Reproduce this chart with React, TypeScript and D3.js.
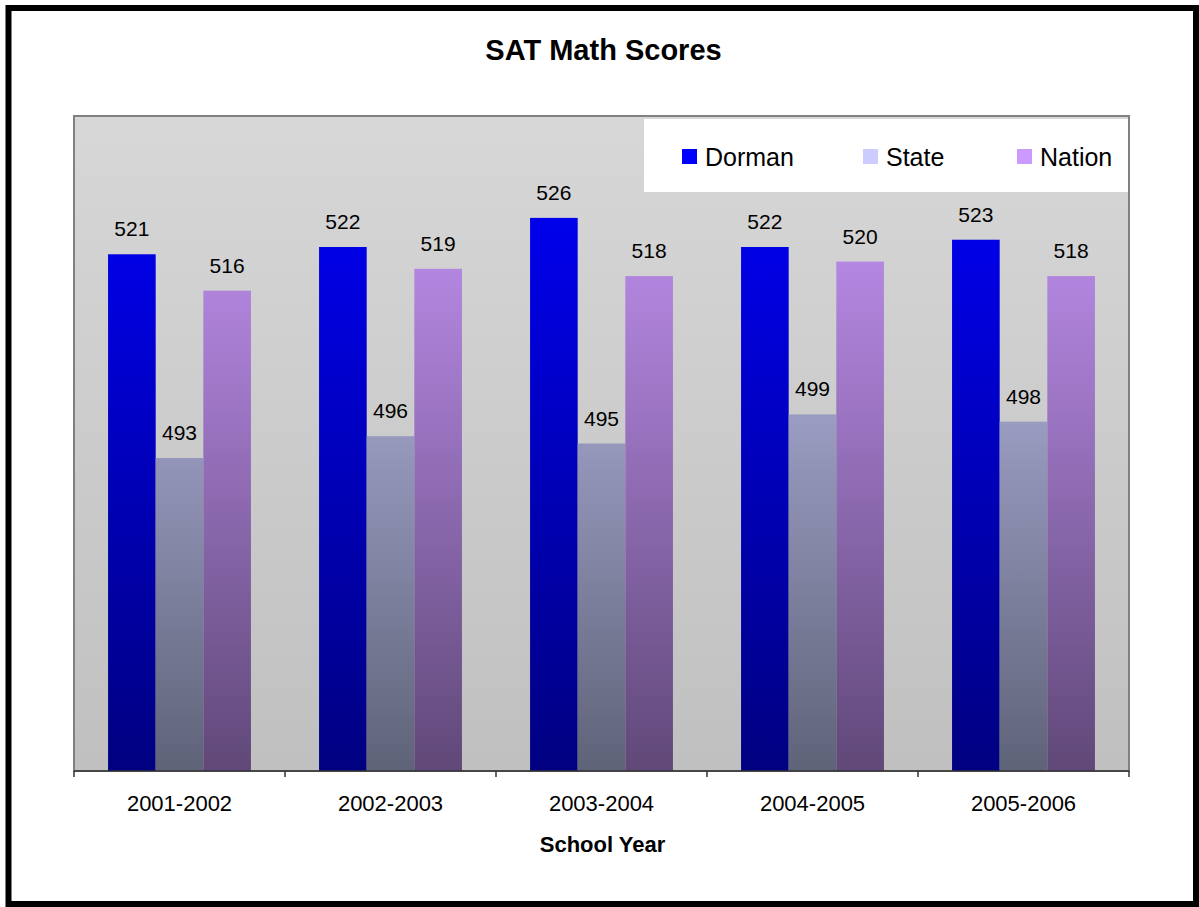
import React from "react";
import * as d3 from "d3";

const years = ["2001-2002", "2002-2003", "2003-2004", "2004-2005", "2005-2006"];
const dorman = [521, 522, 526, 522, 523];
const state = [493, 496, 495, 499, 498];
const nation = [516, 519, 518, 520, 518];
const seriesNames = ["Dorman", "State", "Nation"];
const yDomain = [450, 540];

const W = 1199;
const H = 907;
const plot = { left: 74, top: 116, right: 1129, bottom: 771 };
const font = "'Liberation Sans', Arial, sans-serif";

// top/bottom colours of each series gradient (gradient spans the whole plot area)
const grads = [
  { id: "gDorman", top: "#0000ff", bottom: "#000080", legend: "#0000ff" },
  { id: "gState", top: "#ccccff", bottom: "#5f6378", legend: "#ccccff" },
  { id: "gNation", top: "#cc99ff", bottom: "#604878", legend: "#cc99ff" },
];

const App = () => {
  const values = [dorman, state, nation];

  const x = d3.scaleBand().domain(years).range([plot.left, plot.right]).padding(0);
  const bw = x.bandwidth();
  const gapRatio = 1.43;
  const barW = bw / (3 + gapRatio);
  const x1 = d3
    .scaleBand()
    .domain(seriesNames)
    .range([(gapRatio * barW) / 2, bw - (gapRatio * barW) / 2])
    .padding(0);

  const y = d3.scaleLinear().domain(yDomain).range([plot.bottom, plot.top]);

  const tickXs = years.map((d) => x(d)).concat([plot.right]);

  const legendItems = [
    { name: "Dorman", sx: 682 },
    { name: "State", sx: 863 },
    { name: "Nation", sx: 1017 },
  ];

  return (
    <svg
      width={W}
      height={H}
      style={{ position: "absolute", left: 0, top: 0, background: "#fff" }}
      fontFamily={font}
    >
      <defs>
        <linearGradient id="plotBg" x1="0" y1="0" x2="0" y2="1">
          <stop offset="0" stopColor="#d7d7d7" />
          <stop offset="1" stopColor="#c0c0c0" />
        </linearGradient>
        {grads.map((g) => (
          <linearGradient
            key={g.id}
            id={g.id}
            gradientUnits="userSpaceOnUse"
            x1="0"
            y1={plot.top}
            x2="0"
            y2={plot.bottom}
          >
            <stop offset="0" stopColor={g.top} />
            <stop offset="1" stopColor={g.bottom} />
          </linearGradient>
        ))}
      </defs>

      {/* outer frame */}
      <rect x={8.5} y={8} width={1187.5} height={896} fill="#fff" stroke="#000" strokeWidth={6} />

      <text x={603.5} y={60} textAnchor="middle" fontSize={29} fontWeight="bold">
        SAT Math Scores
      </text>

      {/* plot area */}
      <rect
        x={plot.left}
        y={plot.top}
        width={plot.right - plot.left}
        height={plot.bottom - plot.top}
        fill="url(#plotBg)"
        stroke="#808080"
        strokeWidth={2}
      />

      {/* bars */}
      {years.map((yr, i) => (
        <g key={yr} transform={`translate(${x(yr)},0)`}>
          {seriesNames.map((s, j) => {
            const v = values[j][i];
            return (
              <rect
                key={s}
                x={x1(s)}
                y={y(v)}
                width={x1.bandwidth()}
                height={plot.bottom - y(v)}
                fill={`url(#${grads[j].id})`}
              />
            );
          })}
          {seriesNames.map((s, j) => {
            const v = values[j][i];
            return (
              <text
                key={s + "l"}
                x={x1(s) + x1.bandwidth() / 2}
                y={y(v) - 18}
                textAnchor="middle"
                fontSize={21}
                fill="#000"
              >
                {v}
              </text>
            );
          })}
        </g>
      ))}

      {/* legend */}
      <rect x={644} y={119} width={plot.right - 1 - 644} height={73} fill="#fff" />
      {legendItems.map((it, j) => (
        <g key={it.name}>
          <rect x={it.sx} y={149} width={15} height={15} fill={grads[j].legend} />
          <text x={it.sx + 23} y={166} fontSize={25} fill="#000">
            {it.name}
          </text>
        </g>
      ))}

      {/* x axis */}
      <line x1={plot.left} x2={plot.right} y1={plot.bottom} y2={plot.bottom} stroke="#333" strokeWidth={1.5} />
      {tickXs.map((tx, i) => (
        <line key={i} x1={tx} x2={tx} y1={plot.bottom} y2={plot.bottom + 6} stroke="#333" strokeWidth={1.5} />
      ))}
      {years.map((yr) => (
        <text key={yr} x={x(yr) + bw / 2} y={811} textAnchor="middle" fontSize={22} fill="#000">
          {yr}
        </text>
      ))}
      <text x={602.5} y={852} textAnchor="middle" fontSize={22} fontWeight="bold">
        School Year
      </text>
    </svg>
  );
};

export default App;
